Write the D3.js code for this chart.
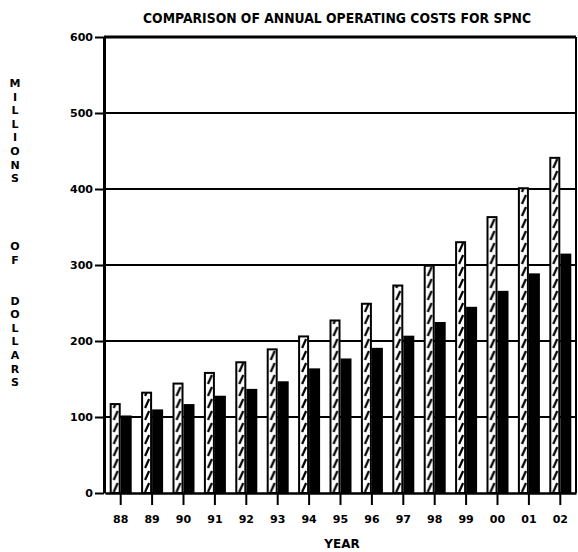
<!DOCTYPE html>
<html>
<head>
<meta charset="utf-8">
<script src="https://cdn.jsdelivr.net/npm/d3@7"></script>
<style>
   body { margin: 0; background: #fff; }
   svg { display: block; }
   .lbl { font-family: "DejaVu Sans", sans-serif; font-weight: bold; fill: #000; }
</style>
</head>
<body>
<svg id="chart" width="578" height="552"></svg>
<script>
// chart data (millions of dollars)
var years = ["88","89","90","91","92","93","94","95","96","97","98","99","00","01","02"];
var yearLabels = ["88","89","90","91","92","93","94","95","96","97","98","99","00","01","02"];
var hatchedCosts = [117, 132, 144, 158, 172, 189, 206, 227, 249, 273, 299, 330, 363, 401, 441];
var solidCosts = [102, 110, 117, 128, 137, 147, 164, 177, 191, 207, 225, 245, 266, 289, 315];
var yTicks = [0, 100, 200, 300, 400, 500, 600];
var titleText = "COMPARISON OF ANNUAL OPERATING COSTS FOR SPNC";
var yAxisTitle = "MILLIONS    OF  DOLLARS";
var xAxisTitle = "YEAR";

var svg = d3.select("#chart");

//plot area edges (window.top is reserved, so no plain "top")
var plotLeft = 105, plotRight = 576, plotTop = 37, plotBottom = 493;

var x = d3.scaleBand().domain(years).range([plotLeft, plotRight]).padding(0);
var y = d3.scaleLinear().domain([0, 600]).range([plotBottom, plotTop]);

var step = x.step();
var hatchW = 10, solidW = 11;

//hatch pattern: steep forward slashes, one cell per band so every bar lines up
var defs = svg.append("defs");
var pat = defs.append("pattern")
   .attr("id", "slash")
   .attr("patternUnits", "userSpaceOnUse")
   .attr("x", x(years[0]) + step / 2 - hatchW)
   .attr("y", plotBottom)
   .attr("width", step)
   .attr("height", 12);
pat.append("rect").attr("width", step).attr("height", 12).attr("fill", "#fff");
pat.append("line")
   .attr("x1", 3).attr("y1", 11)
   .attr("x2", 7).attr("y2", 2)
   .attr("stroke", "#000")
   .attr("stroke-width", 2.2);

//horizontal gridlines
svg.selectAll("line.grid")
   .data(yTicks.filter(function(d){ return d > 0 && d < 600; }))
   .enter()
   .append("line")
   .attr("class", "grid")
   .attr("x1", plotLeft - 1)
   .attr("x2", plotRight)
   .attr("y1", function(d){ return y(d); })
   .attr("y2", function(d){ return y(d); })
   .attr("stroke", "#000")
   .attr("stroke-width", 2);

//hatched bars (left of each tick)
svg.selectAll("rect.hatched")
   .data(hatchedCosts)
   .enter()
   .append("rect")
   .attr("class", "hatched")
   .attr("x", function(d, i){ return x(years[i]) + step / 2 - hatchW; })
   .attr("y", function(d){ return y(d); })
   .attr("width", hatchW - 1)
   .attr("height", function(d){ return plotBottom - y(d); })
   .attr("fill", "url(#slash)")
   .attr("stroke", "#000")
   .attr("stroke-width", 2);

//solid bars (right of each tick)
svg.selectAll("rect.solid")
   .data(solidCosts)
   .enter()
   .append("rect")
   .attr("class", "solid")
   .attr("x", function(d, i){ return x(years[i]) + step / 2; })
   .attr("y", function(d){ return y(d); })
   .attr("width", solidW)
   .attr("height", function(d){ return plotBottom - y(d); })
   .attr("fill", "#000");

//frame: top and right border
svg.append("line")
   .attr("x1", plotLeft - 1).attr("x2", plotRight)
   .attr("y1", plotTop).attr("y2", plotTop)
   .attr("stroke", "#000").attr("stroke-width", 3);
svg.append("line")
   .attr("x1", plotRight).attr("x2", plotRight)
   .attr("y1", plotTop).attr("y2", plotBottom)
   .attr("stroke", "#000").attr("stroke-width", 2);

//y axis
var yAxis = d3.axisLeft(y).tickValues(yTicks).tickSize(9).tickSizeOuter(0).tickPadding(2).tickFormat(d3.format("d"));
var gy = svg.append("g")
   .attr("transform", "translate(" + (plotLeft - 1) + ",0)")
   .call(yAxis);
gy.select(".domain").attr("stroke", "#000").attr("stroke-width", 3);
gy.selectAll(".tick line").attr("stroke", "#000").attr("stroke-width", 2);
gy.selectAll(".tick text")
   .attr("class", "lbl")
   .attr("font-size", 11)
   .attr("font-family", "DejaVu Sans")
   .attr("font-weight", "bold");

//x axis
var xAxis = d3.axisBottom(x).tickSize(12).tickSizeOuter(0).tickPadding(10)
   .tickFormat(function(d, i){ return yearLabels[i]; });
var gx = svg.append("g")
   .attr("transform", "translate(0," + plotBottom + ")")
   .call(xAxis);
gx.select(".domain").attr("stroke", "#000").attr("stroke-width", 2.5);
gx.selectAll(".tick line").attr("stroke", "#000").attr("stroke-width", 2);
gx.selectAll(".tick text")
   .attr("class", "lbl")
   .attr("font-size", 11)
   .attr("font-family", "DejaVu Sans")
   .attr("font-weight", "bold");

//title
svg.append("text")
   .attr("class", "lbl")
   .attr("x", 337)
   .attr("y", 23)
   .attr("text-anchor", "middle")
   .attr("font-size", 14)
   .attr("font-family", "DejaVu Sans Condensed")
   .attr("textLength", 388)
   .attr("lengthAdjust", "spacingAndGlyphs")
   .text(titleText);

//x axis title
svg.append("text")
   .attr("class", "lbl")
   .attr("x", 342)
   .attr("y", 548)
   .attr("text-anchor", "middle")
   .attr("font-size", 12)
   .attr("font-family", "DejaVu Sans Condensed")
   .text(xAxisTitle);

//y axis title, one letter per line
svg.selectAll("text.ylbl")
   .data(yAxisTitle.split(""))
   .enter()
   .append("text")
   .attr("class", "lbl ylbl")
   .attr("x", 15)
   .attr("y", function(d, i){ return 87 + i * 13.6; })
   .attr("text-anchor", "middle")
   .attr("font-size", 11)
   .text(function(d){ return d; });
</script>
</body>
</html>
